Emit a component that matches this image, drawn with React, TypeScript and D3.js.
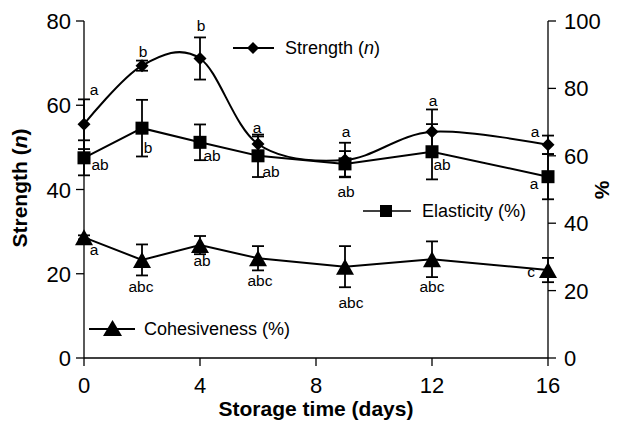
import React from 'react';
import * as d3 from 'd3';

// ---- data ----
const days = [0, 2, 4, 6, 9, 12, 16];
const strength = [55.5, 69.4, 71.1, 50.8, 47.0, 53.7, 50.6];
const strengthErr = [5.9, 1.2, 5.0, 1.8, 4.1, 5.3, 2.2];
const strengthLetters = ['a', 'b', 'b', 'a', 'a', 'a', 'a'];
const elasticity = [59.4, 68.2, 64.0, 60.0, 57.6, 61.2, 53.8];
const elasticityErr = [5.2, 8.4, 5.3, 6.3, 3.8, 8.2, 6.7];
const elasticityLetters = ['ab', 'b', 'ab', 'ab', 'ab', 'ab', 'a'];
const cohesiveness = [35.8, 29.1, 33.5, 29.6, 27.1, 29.3, 26.1];
const cohesivenessErr = [0.6, 4.6, 2.7, 3.6, 6.1, 5.3, 3.6];
const cohesivenessLetters = ['a', 'abc', 'ab', 'abc', 'abc', 'abc', 'c'];
const xTicks = [0, 4, 8, 12, 16];
const leftTicks = [0, 20, 40, 60, 80];
const rightTicks = [0, 20, 40, 60, 80, 100];

// ---- layout (label offsets in px relative to the point) ----
const strengthLabelOffsets = [[10, -29], [1, -9], [1, -27], [-1, -11], [1, -23], [1, -26], [-13, -8]];
const elasticityLabelOffsets = [[16, 12], [6, 25], [12, 19], [13, 21], [1, 33], [10, 18], [-14, 12]];
const cohesivenessLabelOffsets = [[10, 18], [-1, 32], [2, 21], [2, 28], [6, 41], [0, 33], [-17, 7]];

const W = 617, H = 422;
const FONT = 'Liberation Sans, Arial, Helvetica, sans-serif';

const x = d3.scaleLinear().domain([0, 16]).range([84, 548]);
const yL = d3.scaleLinear().domain([0, 80]).range([358, 21]);
const yR = d3.scaleLinear().domain([0, 100]).range([358, 21]);

function Diamond({ cx, cy, r = 6.5 }: { cx: number; cy: number; r?: number }) {
  return <path d={`M${cx},${cy - r}L${cx + r},${cy}L${cx},${cy + r}L${cx - r},${cy}Z`} fill="#000" />;
}
function Square({ cx, cy, s = 13 }: { cx: number; cy: number; s?: number }) {
  return <rect x={cx - s / 2} y={cy - s / 2} width={s} height={s} fill="#000" />;
}
function Triangle({ cx, cy, w = 18, h = 16 }: { cx: number; cy: number; w?: number; h?: number }) {
  return <path d={`M${cx},${cy - h / 2}L${cx + w / 2},${cy + h / 2}L${cx - w / 2},${cy + h / 2}Z`} fill="#000" />;
}

function ErrorBars({ vals, errs, scale }: { vals: number[]; errs: number[]; scale: d3.ScaleLinear<number, number> }) {
  return (
    <g stroke="#000" strokeWidth={1.8}>
      {vals.map((v, i) => {
        const cx = x(days[i]);
        const t = scale(v + errs[i]);
        const b = scale(v - errs[i]);
        return (
          <g key={i}>
            <line x1={cx} x2={cx} y1={t} y2={b} />
            <line x1={cx - 6} x2={cx + 6} y1={t} y2={t} />
            <line x1={cx - 6} x2={cx + 6} y1={b} y2={b} />
          </g>
        );
      })}
    </g>
  );
}

function Letters({ vals, letters, offsets, scale }: { vals: number[]; letters: string[]; offsets: number[][]; scale: d3.ScaleLinear<number, number> }) {
  return (
    <g fontFamily={FONT} fontSize={15.5} textAnchor="middle" fill="#000">
      {vals.map((v, i) => (
        <text key={i} x={x(days[i]) + offsets[i][0]} y={scale(v) + offsets[i][1]}>
          {letters[i]}
        </text>
      ))}
    </g>
  );
}

export default function App() {
  const pts = (vals: number[], scale: d3.ScaleLinear<number, number>) =>
    vals.map((v, i) => [x(days[i]), scale(v)] as [number, number]);

  const smooth = d3.line().curve(d3.curveCatmullRom.alpha(0));
  const straight = d3.line();

  const sPts = pts(strength, yL);
  const ePts = pts(elasticity, yR);
  const cPts = pts(cohesiveness, yR);

  return (
    <svg width={W} height={H} style={{ position: 'fixed', left: 0, top: 0, background: '#fff' }}>
      <rect width={W} height={H} fill="#fff" />
      {/* axes */}
      <g stroke="#000" strokeWidth={1.3} fill="none">
        <line x1={84} x2={84} y1={21} y2={358} />
        <line x1={548} x2={548} y1={21} y2={358} />
        <line x1={84} x2={548} y1={358} y2={358} />
        {leftTicks.map((t) => (
          <line key={'l' + t} x1={76} x2={84} y1={yL(t)} y2={yL(t)} />
        ))}
        {rightTicks.map((t) => (
          <line key={'r' + t} x1={548} x2={556} y1={yR(t)} y2={yR(t)} />
        ))}
        {xTicks.map((t) => (
          <line key={'x' + t} x1={x(t)} x2={x(t)} y1={358} y2={366} />
        ))}
      </g>
      <g fontFamily={FONT} fontSize={22} fill="#000">
        {leftTicks.map((t) => (
          <text key={'lt' + t} x={71} y={yL(t) + 8} textAnchor="end">{t}</text>
        ))}
        {rightTicks.map((t) => (
          <text key={'rt' + t} x={564} y={yR(t) + 8} textAnchor="start">{t}</text>
        ))}
        {xTicks.map((t) => (
          <text key={'xt' + t} x={x(t)} y={393} textAnchor="middle">{t}</text>
        ))}
      </g>
      {/* axis titles */}
      <text x={316} y={416} textAnchor="middle" fontFamily={FONT} fontSize={21} fontWeight="bold">
        Storage time (days)
      </text>
      <text transform="translate(27,188) rotate(-90)" textAnchor="middle" fontFamily={FONT} fontSize={21} fontWeight="bold">
        Strength (<tspan fontStyle="italic">n</tspan>)
      </text>
      <text transform="translate(609,190) rotate(-90)" textAnchor="middle" fontFamily={FONT} fontSize={21} fontWeight="bold">
        %
      </text>

      {/* error bars */}
      <ErrorBars vals={strength} errs={strengthErr} scale={yL} />
      <ErrorBars vals={elasticity} errs={elasticityErr} scale={yR} />
      <ErrorBars vals={cohesiveness} errs={cohesivenessErr} scale={yR} />

      {/* lines */}
      <path d={smooth(sPts) || ''} fill="none" stroke="#000" strokeWidth={2} />
      <path d={straight(ePts) || ''} fill="none" stroke="#000" strokeWidth={2} />
      <path d={straight(cPts) || ''} fill="none" stroke="#000" strokeWidth={2} />

      {/* markers */}
      {sPts.map(([cx, cy], i) => <Diamond key={'d' + i} cx={cx} cy={cy} />)}
      {ePts.map(([cx, cy], i) => <Square key={'s' + i} cx={cx} cy={cy} />)}
      {cPts.map(([cx, cy], i) => <Triangle key={'t' + i} cx={cx} cy={cy} />)}

      {/* letters */}
      <Letters vals={strength} letters={strengthLetters} offsets={strengthLabelOffsets} scale={yL} />
      <Letters vals={elasticity} letters={elasticityLetters} offsets={elasticityLabelOffsets} scale={yR} />
      <Letters vals={cohesiveness} letters={cohesivenessLetters} offsets={cohesivenessLabelOffsets} scale={yR} />

      {/* legends */}
      <g fontFamily={FONT} fontSize={18} fill="#000">
        <line x1={233} x2={274} y1={48} y2={48} stroke="#000" strokeWidth={2} />
        <Diamond cx={253} cy={48} r={6} />
        <text x={285} y={54}>Strength (<tspan fontStyle="italic">n</tspan>)</text>

        <line x1={363} x2={411} y1={211} y2={211} stroke="#000" strokeWidth={1.5} />
        <Square cx={386} cy={211} s={12} />
        <text x={422} y={217}>Elasticity (%)</text>

        <line x1={89} x2={135} y1={329} y2={329} stroke="#000" strokeWidth={2} />
        <Triangle cx={112.5} cy={328} w={19} h={16} />
        <text x={144} y={335}>Cohesiveness (%)</text>
      </g>
    </svg>
  );
}
